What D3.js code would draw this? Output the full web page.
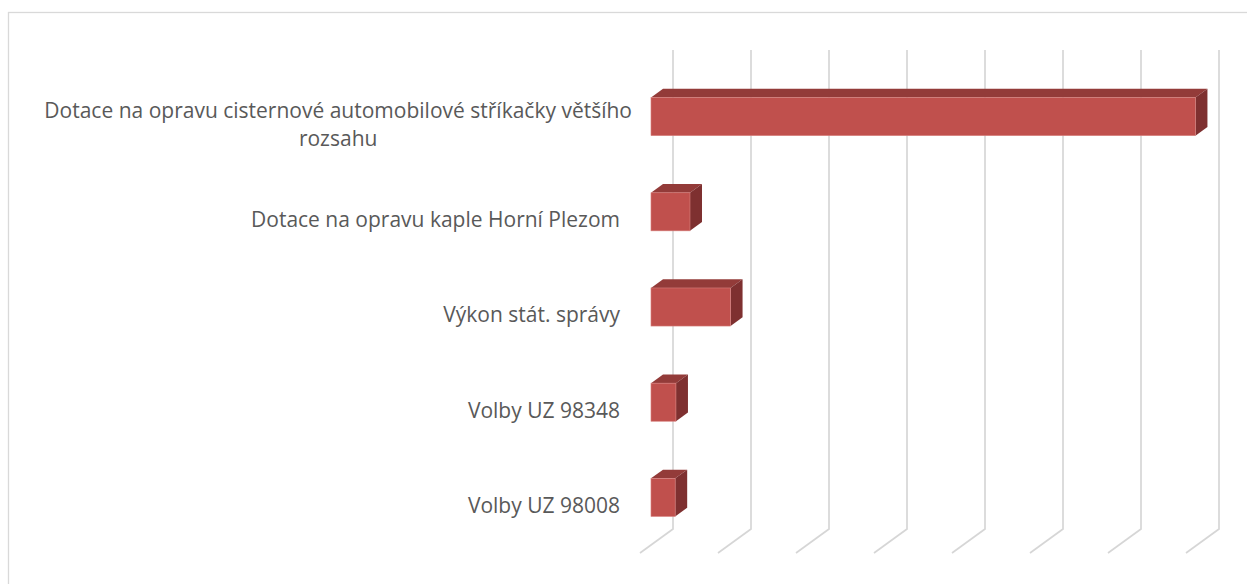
<!DOCTYPE html>
<html>
<head>
<meta charset="utf-8">
<script src="https://cdn.jsdelivr.net/npm/d3@7"></script>
<style>
  body { margin: 0; background: #fff; }
  svg { display: block; }
</style>
</head>
<body>
<div class="chart"></div>
<script>
// chart data
const categories = [
  "Dotace na opravu cisternové automobilové stříkačky většího rozsahu",
  "Dotace na opravu kaple Horní Plezom",
  "Výkon stát. správy",
  "Volby UZ 98348",
  "Volby UZ 98008"
];
const values = [698000, 50000, 102000, 32000, 31000];
const ticks = [0, 100000, 200000, 300000, 400000, 500000, 600000, 700000];

const width = 1247, height = 584;
// 3d depth: offset of the floor front edge from the back wall
const depth = { dx: -33, dy: 24 };
const barFront = 0.667, barBack = 0.303;

function proj(x, y, t) {
  return [x + depth.dx * t, y + depth.dy * t];
}

let svg = d3.select(".chart").append("svg")
  .attr("width", width)
  .attr("height", height);

// chart area border
svg.append("rect")
  .attr("x", 8.5).attr("y", 12.5)
  .attr("width", 1260).attr("height", 600)
  .attr("fill", "none")
  .attr("stroke", "#d9d9d9")
  .attr("stroke-width", 1.3);

let x = d3.scaleLinear().domain([0, 700000]).range([673, 1219]);
let y = d3.scaleBand().domain(categories).range([53, 529])
  .paddingInner(0.6).paddingOuter(0.3);

// gridlines on the back wall + floor
let grid = svg.append("g");
ticks.forEach(t => {
  let b = proj(x(t), 529, 1);
  grid.append("path")
    .attr("d", `M${x(t)},50 L${x(t)},529 L${b[0]},${b[1]}`)
    .attr("fill", "none")
    .attr("stroke", "#d6d6d6")
    .attr("stroke-width", 1.7);
});

// bars
let bars = svg.append("g");
categories.forEach((c, i) => {
  let xs = x(0), xe = x(values[i]);
  let y0 = y(c), y1 = y0 + y.bandwidth();
  let pts = a => a.map(p => p.join(",")).join(" ");

  bars.append("polygon")
    .attr("points", pts([proj(xs, y0, barFront), proj(xe, y0, barFront), proj(xe, y0, barBack), proj(xs, y0, barBack)]))
    .attr("fill", "#933b39");
  bars.append("polygon")
    .attr("points", pts([proj(xe, y0, barFront), proj(xe, y0, barBack), proj(xe, y1, barBack), proj(xe, y1, barFront)]))
    .attr("fill", "#7e3030");
  let f0 = proj(xs, y0, barFront), f1 = proj(xe, y1, barFront);
  bars.append("rect")
    .attr("x", f0[0]).attr("y", f0[1])
    .attr("width", f1[0] - f0[0]).attr("height", f1[1] - f0[1])
    .attr("fill", "#c0504d")
    .attr("stroke", "#d8807e")
    .attr("stroke-width", 0.6);
});

// category labels, wrapped like Excel does
let labels = svg.append("g")
  .attr("font-family", "'Open Sans', sans-serif")
  .attr("font-size", 21)
  .attr("fill", "#595959");

const maxLabelWidth = 610, lineHeight = 28;
let measure = labels.append("text");
function textWidth(s) {
  measure.text(s);
  return measure.node().getComputedTextLength();
}
function wrap(s) {
  let words = s.split(" "), lines = [], cur = "";
  words.forEach(w => {
    let test = cur ? cur + " " + w : w;
    if (cur && textWidth(test) > maxLabelWidth) { lines.push(cur); cur = w; }
    else cur = test;
  });
  lines.push(cur);
  return lines;
}

categories.forEach(c => {
  let lines = wrap(c);
  let cy = proj(x(0), y(c) + y.bandwidth() / 2, 1)[1];
  let right = proj(x(0), 0, 1)[0] - 20;
  if (lines.length === 1) {
    labels.append("text")
      .attr("x", right).attr("y", cy)
      .attr("dy", "0.35em")
      .attr("text-anchor", "end")
      .text(lines[0]);
  } else {
    let w = d3.max(lines, textWidth);
    let cx = right + 12 - w / 2;
    lines.forEach((l, k) => {
      labels.append("text")
        .attr("x", cx)
        .attr("y", cy + (k - (lines.length - 1) / 2) * lineHeight)
        .attr("dy", "0.35em")
        .attr("text-anchor", "middle")
        .text(l);
    });
  }
});
measure.remove();
</script>
</body>
</html>
